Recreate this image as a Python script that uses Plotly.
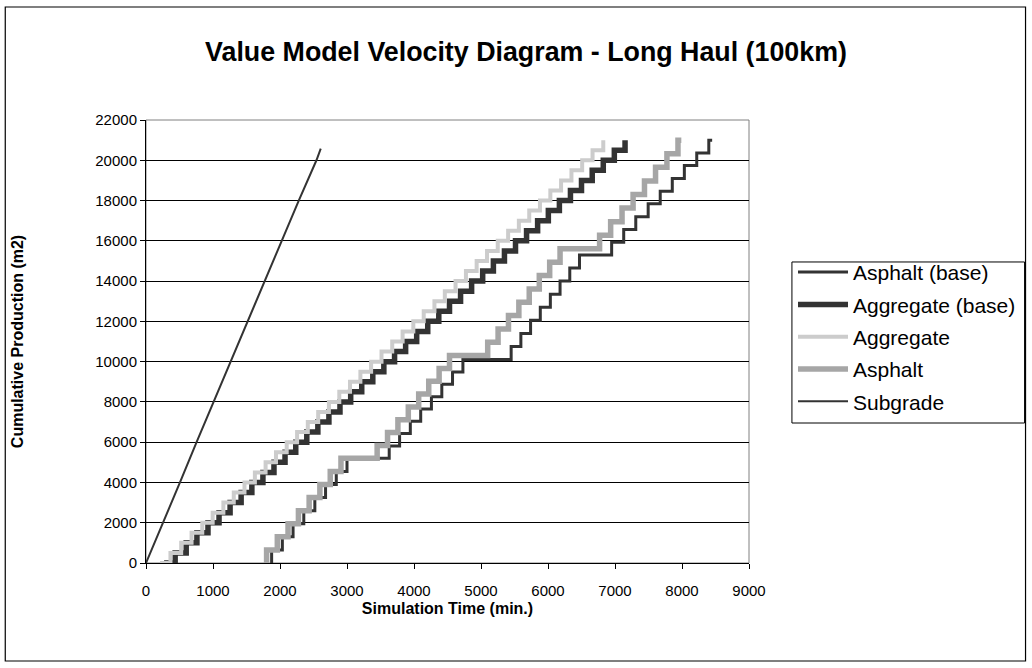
import plotly.graph_objects as go

# ---- Data ----
# Subgrade (straight line)
subgrade_t = [0, 258, 507, 755, 2022, 2280, 2544, 2608]
subgrade_v = [0, 2000, 4000, 6000, 16000, 18000, 20000, 20580]

# Aggregate: time at which cumulative production reaches each level (500 m2 steps)
aggregate_levels = [0, 500, 1000, 1500, 2000, 2500, 3000, 3500, 4000, 4500, 5000,
                    5500, 6000, 6500, 7000, 7500, 8000, 8500, 9000, 9500, 10000,
                    10500, 11000, 11500, 12000, 12500, 13000, 13500, 14000, 14500, 15000,
                    15500, 16000, 16500, 17000, 17500, 18000, 18500, 19000, 19500, 20000,
                    20500, 21000]
aggregate_t = [210, 365, 525, 680, 840, 995, 1155, 1310, 1470, 1625, 1785,
               1940, 2100, 2255, 2415, 2570, 2730, 2885, 3045, 3200, 3360,
               3515, 3675, 3830, 3990, 4145, 4305, 4460, 4620, 4775, 4935,
               5090, 5250, 5405, 5565, 5720, 5880, 6035, 6195, 6350, 6510,
               6665, 6825]
aggregate_base_t = [270, 435, 600, 760, 925, 1090, 1255, 1420, 1580, 1745, 1910,
                    2075, 2235, 2400, 2565, 2730, 2895, 3055, 3220, 3385, 3550,
                    3710, 3875, 4040, 4205, 4370, 4530, 4695, 4860, 5025, 5185,
                    5350, 5515, 5680, 5845, 6005, 6170, 6335, 6500, 6660, 6825,
                    6990, 7150]

# Asphalt: step events (time, cumulative production)
asphalt_t = [1800, 1800, 1960, 2120, 2275, 2435, 2595, 2750, 2910,
             3450, 3605, 3760, 3915, 4070, 4220, 4375, 4530,
             5100, 5255, 5410, 5565, 5720, 5870, 6025, 6180,
             6770, 6935, 7105, 7270, 7440, 7605, 7775, 7940, 7990]
asphalt_v = [0, 650, 1300, 1950, 2600, 3250, 3900, 4550, 5200,
             5840, 6475, 7115, 7750, 8390, 9025, 9665, 10300,
             10960, 11625, 12290, 12950, 13610, 14275, 14940, 15600,
             16275, 16950, 17625, 18300, 18975, 19650, 20325, 21000, 21000]

asphalt_base_t = [1875, 1875, 2035, 2195, 2355, 2520, 2680, 2840, 3000,
                  3630, 3785, 3945, 4100, 4260, 4415, 4575, 4730,
                  5450, 5595, 5740, 5885, 6035, 6180, 6325, 6470,
                  6950, 7130, 7310, 7495, 7675, 7855, 8035, 8220, 8400, 8450]
asphalt_base_v = [0, 650, 1300, 1950, 2600, 3250, 3900, 4550, 5200,
                  5810, 6425, 7040, 7650, 8260, 8875, 9490, 10100,
                  10750, 11400, 12050, 12700, 13350, 14000, 14650, 15300,
                  15935, 16565, 17200, 17835, 18465, 19100, 19735, 20365, 21000, 21000]

x_ticks = [0, 1000, 2000, 3000, 4000, 5000, 6000, 7000, 8000, 9000]
y_ticks = [0, 2000, 4000, 6000, 8000, 10000, 12000, 14000, 16000, 18000, 20000, 22000]

DARK = "#333333"
LIGHT = "#cccccc"
MID = "#a6a6a6"
FONT = "Liberation Sans, Arial, sans-serif"

fig = go.Figure()
fig.add_trace(go.Scatter(x=asphalt_base_t, y=asphalt_base_v, mode="lines", name="Asphalt (base)",
                         line=dict(color=DARK, width=3, shape="hv"), legendgroup="a"))
fig.add_trace(go.Scatter(x=aggregate_base_t, y=aggregate_levels, mode="lines", name="Aggregate (base)",
                         line=dict(color=DARK, width=5.5, shape="hv"), legendgroup="b"))
fig.add_trace(go.Scatter(x=aggregate_t, y=aggregate_levels, mode="lines", name="Aggregate",
                         line=dict(color=LIGHT, width=4, shape="hv"), legendgroup="c"))
fig.add_trace(go.Scatter(x=asphalt_t, y=asphalt_v, mode="lines", name="Asphalt",
                         line=dict(color=MID, width=5.5, shape="hv"), legendgroup="d"))
fig.add_trace(go.Scatter(x=subgrade_t, y=subgrade_v, mode="lines", name="Subgrade",
                         line=dict(color=DARK, width=2), legendgroup="e"))

fig.update_layout(
    width=1032, height=668,
    margin=dict(l=146, r=282, t=120, b=105),
    paper_bgcolor="white", plot_bgcolor="white",
    font=dict(family=FONT, color="black", size=14),
    title=dict(text="<b>Value Model Velocity Diagram - Long Haul (100km)</b>",
               x=0.5097, xanchor="center", y=0.922, yanchor="middle",
               font=dict(size=26.8, family=FONT, color="black")),
    legend=dict(x=1.0712, y=0.7021, xanchor="left", yanchor="top",
                borderwidth=0, bgcolor="rgba(0,0,0,0)",
                font=dict(size=21, family=FONT), traceorder="grouped",
                tracegroupgap=2, itemwidth=50),
    showlegend=True,
)
fig.update_xaxes(range=[0, 9000], tickvals=x_ticks, ticktext=[str(v) for v in x_ticks],
                 ticks="outside", ticklen=5, ticklabelstandoff=9,
                 tickcolor="black", showline=True, linecolor="black", linewidth=1,
                 mirror=False, showgrid=False, zeroline=False, automargin=False,
                 tickfont=dict(size=15, family=FONT),
                 title=dict(text="<b>Simulation Time (min.)</b>", standoff=4,
                            font=dict(size=16, family=FONT)))
fig.update_yaxes(range=[0, 22000], tickvals=y_ticks, ticktext=[str(v) for v in y_ticks],
                 ticks="outside", ticklen=5,
                 tickcolor="black", showline=True, linecolor="black", linewidth=1,
                 showgrid=True, gridcolor="black", gridwidth=1, zeroline=False,
                 automargin=False,
                 tickfont=dict(size=15, family=FONT),
                 title=dict(text="<b>Cumulative Production (m2)</b>", standoff=67,
                            font=dict(size=16, family=FONT)))

# plot area border (gray)
fig.add_shape(type="rect", xref="paper", yref="paper", x0=0, x1=1, y0=0, y1=1,
              line=dict(color="#808080", width=1), layer="below")
# legend box
fig.add_shape(type="rect", xref="paper", yref="paper",
              x0=1.0712, x1=1.457, y0=0.316, y1=0.6795,
              line=dict(color="black", width=1), fillcolor="white", layer="below")
# outer chart border
fig.add_shape(type="rect", xref="paper", yref="paper",
              x0=-0.2334, x1=1.4586, y0=-0.2212, y1=1.2551,
              line=dict(color="black", width=1.2))

fig.write_html("out.html", config={"displayModeBar": False},
               post_script="document.body.style.margin='0';document.body.style.overflow='hidden';")
